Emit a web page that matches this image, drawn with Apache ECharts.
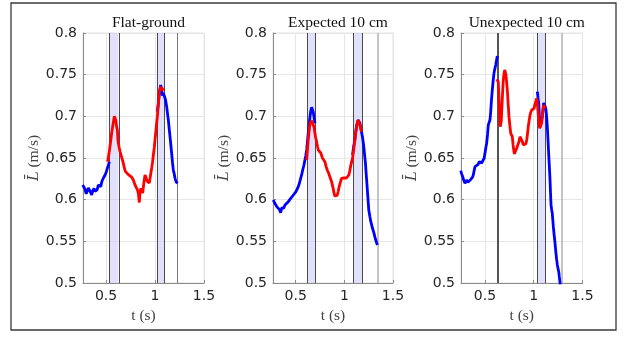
<!DOCTYPE html>
<html>
<head>
<meta charset="utf-8">
<script src="https://cdn.jsdelivr.net/npm/echarts@6/dist/echarts.min.js"></script>
<style>html,body{margin:0;padding:0;background:#fff;}#c{width:624px;height:337px;}</style>
</head>
<body>
<div id="c"></div>
<script>
// ---------- data ----------
const panelTitles = ['Flat-ground', 'Expected 10 cm', 'Unexpected 10 cm'];
const xTicks = [0.5, 1, 1.5];
const xMins = [0.265, 0.267, 0.254];

const flatBlueA = [[0.262,0.6176],[0.274,0.615],[0.286,0.6124],[0.298,0.607],[0.309,0.6084],[0.32,0.614],[0.330,0.6124],[0.342,0.609],[0.354,0.6056],[0.366,0.611],[0.378,0.6136],[0.388,0.610],[0.398,0.6076],[0.41,0.612],[0.421,0.6176],[0.434,0.616],[0.446,0.6156],[0.456,0.621],[0.466,0.6244],[0.478,0.622],[0.49,0.6296],[0.502,0.633],[0.513,0.6376],[0.524,0.641],[0.534,0.6456]];
const flatRed = [[0.517,0.6456],[0.53,0.655],[0.545,0.668],[0.56,0.682],[0.575,0.693],[0.585,0.70],[0.592,0.7004],[0.600,0.695],[0.608,0.688],[0.616,0.6836],[0.621,0.672],[0.626,0.6676],[0.635,0.662],[0.643,0.6576],[0.652,0.657],[0.66,0.6556],[0.672,0.646],[0.684,0.6396],[0.697,0.634],[0.711,0.6316],[0.728,0.630],[0.745,0.6296],[0.762,0.627],[0.779,0.6236],[0.796,0.6176],[0.813,0.6136],[0.822,0.611],[0.83,0.6076],[0.836,0.606],[0.84,0.5966],[0.845,0.606],[0.854,0.6136],[0.864,0.611],[0.874,0.608],[0.886,0.620],[0.898,0.6296],[0.91,0.626],[0.921,0.622],[0.932,0.620],[0.942,0.620],[0.955,0.630],[0.966,0.638],[0.975,0.645],[0.983,0.6536],[0.992,0.662],[1.0,0.6716],[1.012,0.686],[1.024,0.6996],[1.034,0.715],[1.044,0.7296],[1.058,0.7356],[1.066,0.732],[1.075,0.7296],[1.084,0.733],[1.092,0.733]];
const flatBlueB = [[1.024,0.7056],[1.034,0.716],[1.044,0.728],[1.058,0.7376],[1.066,0.733],[1.075,0.725],[1.085,0.728],[1.095,0.727],[1.107,0.72],[1.119,0.7116],[1.128,0.703],[1.136,0.6956],[1.145,0.685],[1.153,0.6756],[1.162,0.665],[1.17,0.6556],[1.178,0.645],[1.187,0.6356],[1.196,0.631],[1.204,0.6256],[1.214,0.622],[1.228,0.6196]];
const flatBands = [[0.534,0.626],[1.02,1.095]];
const flatEnd = 1.228;

const expBlueA = [[0.270,0.5996],[0.284,0.596],[0.298,0.5936],[0.31,0.591],[0.322,0.5896],[0.334,0.588],[0.346,0.5844],[0.356,0.590],[0.367,0.5916],[0.378,0.590],[0.39,0.5936],[0.405,0.595],[0.424,0.5976],[0.436,0.600],[0.449,0.6016],[0.462,0.603],[0.476,0.6056],[0.49,0.608],[0.503,0.6096],[0.515,0.612],[0.527,0.6156],[0.539,0.620],[0.551,0.6256],[0.562,0.630],[0.572,0.6356],[0.584,0.641],[0.595,0.6476],[0.604,0.653],[0.613,0.6596],[0.621,0.670],[0.629,0.6796],[0.638,0.690],[0.647,0.6996],[0.656,0.707],[0.664,0.7108],[0.672,0.709],[0.680,0.7056],[0.689,0.699],[0.698,0.6916]];
const expRed = [[0.613,0.6476],[0.621,0.660],[0.629,0.6716],[0.638,0.683],[0.647,0.6916],[0.655,0.694],[0.664,0.6948],[0.672,0.695],[0.68,0.6936],[0.689,0.687],[0.698,0.6796],[0.706,0.674],[0.715,0.6696],[0.724,0.664],[0.732,0.6596],[0.749,0.6576],[0.758,0.656],[0.766,0.6536],[0.775,0.650],[0.783,0.6476],[0.8,0.6456],[0.812,0.640],[0.824,0.6356],[0.838,0.632],[0.851,0.6296],[0.869,0.6216],[0.885,0.6136],[0.894,0.608],[0.903,0.6044],[0.915,0.604],[0.926,0.605],[0.937,0.610],[0.947,0.6156],[0.96,0.621],[0.971,0.6256],[0.983,0.626],[0.995,0.626],[1.01,0.627],[1.022,0.626],[1.034,0.628],[1.046,0.6296],[1.055,0.634],[1.064,0.6396],[1.074,0.645],[1.084,0.6496],[1.096,0.660],[1.108,0.6716],[1.116,0.680],[1.125,0.6876],[1.133,0.692],[1.141,0.6956],[1.15,0.693],[1.159,0.6896],[1.168,0.686],[1.176,0.6816]];
const expBlueB = [[1.084,0.6536],[1.096,0.664],[1.108,0.6716],[1.125,0.688],[1.141,0.6956],[1.159,0.692],[1.172,0.684],[1.186,0.6756],[1.2,0.6636],[1.208,0.654],[1.217,0.6436],[1.225,0.630],[1.234,0.6156],[1.243,0.601],[1.251,0.5876],[1.262,0.580],[1.272,0.5736],[1.28,0.570],[1.289,0.5656],[1.297,0.563],[1.305,0.5596],[1.314,0.555],[1.323,0.5516],[1.332,0.548],[1.34,0.5456]];
const expBands = [[0.619,0.705],[1.094,1.182]];
const expEnd = 1.34;

const unBlueA = [[0.251,0.6348],[0.261,0.631],[0.271,0.6276],[0.283,0.623],[0.295,0.6196],[0.304,0.622],[0.312,0.6236],[0.325,0.621],[0.339,0.622],[0.352,0.624],[0.364,0.6256],[0.372,0.627],[0.38,0.6296],[0.389,0.635],[0.397,0.6396],[0.405,0.641],[0.414,0.638],[0.428,0.642],[0.442,0.6456],[0.454,0.645],[0.466,0.644],[0.475,0.643],[0.483,0.6456],[0.492,0.650],[0.5,0.6556],[0.508,0.662],[0.517,0.6676],[0.526,0.678],[0.534,0.6896],[0.543,0.693],[0.551,0.6956],[0.557,0.703],[0.562,0.7116],[0.568,0.722],[0.575,0.7316],[0.583,0.742],[0.592,0.7516],[0.601,0.757],[0.610,0.7616],[0.618,0.767],[0.626,0.7724]];
const unRed = [[0.62,0.7444],[0.628,0.743],[0.636,0.7416],[0.641,0.728],[0.647,0.7116],[0.652,0.697],[0.657,0.6876],[0.662,0.690],[0.667,0.694],[0.672,0.707],[0.677,0.7196],[0.682,0.732],[0.688,0.7436],[0.695,0.751],[0.702,0.7556],[0.709,0.753],[0.715,0.7496],[0.722,0.741],[0.729,0.7316],[0.737,0.716],[0.746,0.6996],[0.755,0.689],[0.764,0.6796],[0.772,0.678],[0.78,0.6756],[0.788,0.666],[0.797,0.6576],[0.802,0.655],[0.808,0.6536],[0.816,0.659],[0.825,0.6616],[0.834,0.663],[0.842,0.664],[0.85,0.670],[0.859,0.6756],[0.868,0.675],[0.876,0.674],[0.885,0.669],[0.893,0.6656],[0.902,0.664],[0.91,0.664],[0.919,0.667],[0.928,0.6716],[0.936,0.679],[0.944,0.6876],[0.953,0.695],[0.962,0.7016],[0.97,0.705],[0.979,0.7076],[0.99,0.708],[1.003,0.7096],[1.012,0.714],[1.02,0.7176],[1.03,0.7216],[1.035,0.717],[1.04,0.7116],[1.046,0.703],[1.051,0.6956],[1.056,0.690],[1.061,0.6856],[1.067,0.685],[1.074,0.6856],[1.081,0.692],[1.088,0.6996],[1.095,0.707],[1.102,0.7136],[1.108,0.712],[1.115,0.7096]];
const unBlueB = [[1.037,0.7296],[1.044,0.722],[1.051,0.7156],[1.058,0.698],[1.064,0.687],[1.074,0.686],[1.088,0.700],[1.102,0.716],[1.112,0.716],[1.12,0.711],[1.126,0.7076],[1.133,0.698],[1.139,0.6876],[1.146,0.672],[1.153,0.6556],[1.16,0.640],[1.167,0.6236],[1.172,0.608],[1.177,0.5936],[1.184,0.588],[1.19,0.5836],[1.196,0.575],[1.201,0.5676],[1.208,0.559],[1.215,0.5516],[1.222,0.543],[1.228,0.5356],[1.235,0.528],[1.242,0.5216],[1.247,0.521],[1.252,0.5196],[1.257,0.513],[1.262,0.5076],[1.272,0.498]];
const unStep = 0.63;
const unBands = [[1.04,1.12]];
const unEnd = 1.29;

// ---------- chart ----------
const chart = echarts.init(document.getElementById('c'), null, {renderer: 'canvas'});
const gridsPos = [{left: 83, width: 121}, {left: 273, width: 120}, {left: 461, width: 121.5}];
const TOP = 33, H = 250;
const tickColor = '#262626', axisGrey = '#8a8a8a', gridGrey = '#e6e6e6';
const sansFont = 'DejaVu Sans';
const serifFont = 'Liberation Serif';

const grids = gridsPos.map(g => ({left: g.left, top: TOP, width: g.width, height: H, show: true, borderColor: '#e2e2e2', borderWidth: 1, containLabel: false}));
const titles = gridsPos.map((g, i) => ({
  text: panelTitles[i], left: g.left + g.width / 2, top: 10, textAlign: 'center',
  textStyle: {fontFamily: serifFont, fontSize: 15.5, fontWeight: 'normal', color: '#111'}
}));
const labelStyle = {fontFamily: sansFont, fontSize: 14, color: tickColor, fontWeight: 'normal', fontStyle: 'normal'};
const xAxes = gridsPos.map((g, i) => ({
  gridIndex: i, type: 'value', min: xMins[i], max: 1.5,
  axisLine: {show: true, onZero: false, lineStyle: {color: axisGrey, width: 1}},
  axisTick: {show: true, inside: true, length: 3, customValues: xTicks, lineStyle: {color: axisGrey}},
  axisLabel: Object.assign({customValues: xTicks, margin: 6}, labelStyle),
  splitLine: {show: true, lineStyle: {color: gridGrey, width: 1}},
  name: 't (s)', nameLocation: 'middle', nameGap: 25,
  nameTextStyle: {fontFamily: serifFont, fontSize: 15.5, color: '#444'}
}));
const yAxes = gridsPos.map((g, i) => ({
  gridIndex: i, type: 'value', min: 0.5, max: 0.8, interval: 0.05,
  axisLine: {show: true, onZero: false, lineStyle: {color: axisGrey, width: 1}},
  axisTick: {show: true, inside: true, length: 3, lineStyle: {color: axisGrey}},
  axisLabel: Object.assign({margin: 6}, labelStyle),
  splitLine: {show: true, lineStyle: {color: gridGrey, width: 1}},
  name: '{i|L\u0304} (m/s)', nameLocation: 'middle', nameGap: 35, nameRotate: 90,
  nameTextStyle: {fontFamily: serifFont, fontSize: 15.5, color: '#444',
    rich: {i: {fontFamily: 'DejaVu Serif', fontStyle: 'italic', fontSize: 14.5, color: '#444'}}}
}));

function lineSeries(idx, data, color, extra) {
  return Object.assign({
    type: 'line', xAxisIndex: idx, yAxisIndex: idx, data: data, showSymbol: false, symbol: 'none',
    lineStyle: {color: color, width: 2.8}, itemStyle: {color: color}, animation: false, clip: true, z: 5
  }, extra || {});
}
function markers(bands, extraLines) {
  const dark = {color: '#4a4a4a', width: 1, type: 'solid'};
  const lines = [];
  bands.forEach(b => { lines.push({xAxis: b[0], lineStyle: dark}); lines.push({xAxis: b[1], lineStyle: dark}); });
  extraLines.forEach(l => lines.push(l));
  return {
    markArea: {silent: true, itemStyle: {color: 'rgba(205,205,248,0.6)'}, data: bands.map(b => [{xAxis: b[0]}, {xAxis: b[1]}])},
    markLine: {silent: true, symbol: 'none', label: {show: false}, animation: false, data: lines}
  };
}

const series = [
  lineSeries(0, flatBlueA, '#0000ff', markers(flatBands, [{xAxis: flatEnd, lineStyle: {color: '#777', width: 1, type: 'solid'}}])),
  lineSeries(0, flatBlueB, '#0000ff'),
  lineSeries(0, flatRed, '#ff0000', {z: 6}),
  lineSeries(1, expBlueA, '#0000ff', markers(expBands, [{xAxis: expEnd, lineStyle: {color: '#b0b0b0', width: 1.5, type: 'solid'}}])),
  lineSeries(1, expBlueB, '#0000ff'),
  lineSeries(1, expRed, '#ff0000', {z: 6}),
  lineSeries(2, unBlueA, '#0000ff', markers(unBands, [
    {xAxis: unStep, lineStyle: {color: '#555', width: 2, type: 'solid'}},
    {xAxis: unEnd, lineStyle: {color: '#b0b0b0', width: 1.5, type: 'solid'}}])),
  lineSeries(2, unBlueB, '#0000ff'),
  lineSeries(2, unRed, '#ff0000', {z: 6})
];

chart.setOption({
  backgroundColor: '#fff',
  animation: false,
  textStyle: {fontFamily: sansFont},
  title: titles,
  grid: grids,
  xAxis: xAxes,
  yAxis: yAxes,
  series: series,
  graphic: [{type: 'rect', shape: {x: 11, y: 3, width: 605, height: 327}, style: {fill: 'none', stroke: '#3a3a3a', lineWidth: 1.3}, silent: true, z: 100}]
});
</script>
</body>
</html>
